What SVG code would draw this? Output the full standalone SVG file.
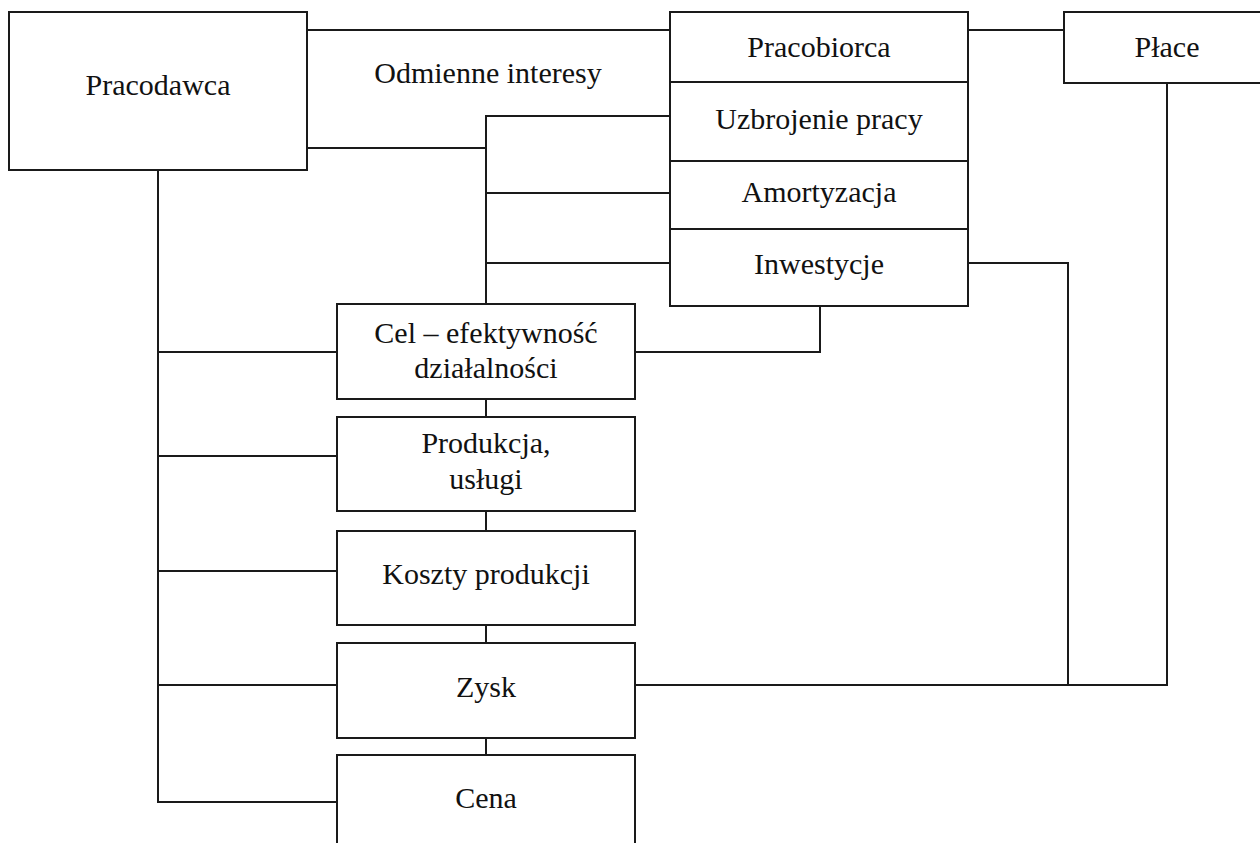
<svg xmlns="http://www.w3.org/2000/svg" width="1260" height="843" viewBox="0 0 1260 843">
<style>
.box{fill:#fff;stroke:#1a1a1a;stroke-width:2}
.ln{fill:none;stroke:#1a1a1a;stroke-width:2}
text{font-family:"Liberation Serif","Times New Roman",serif;font-size:30px;fill:#111;text-anchor:middle}
</style>
<rect width="1260" height="843" fill="#fff"/>
<g id="connectors">
<path class="ln" d="M307,30 H670"/>
<path class="ln" d="M307,148 H486"/>
<path class="ln" d="M670,116 H486 V304"/>
<path class="ln" d="M486,193 H670"/>
<path class="ln" d="M486,263 H670"/>
<path class="ln" d="M968,30 H1064"/>
<path class="ln" d="M158,170 V802 H337"/>
<path class="ln" d="M158,352 H337"/>
<path class="ln" d="M158,456 H337"/>
<path class="ln" d="M158,571 H337"/>
<path class="ln" d="M158,685 H337"/>
<path class="ln" d="M635,352 H820 V306"/>
<path class="ln" d="M968,263 H1068 V685"/>
<path class="ln" d="M635,685 H1167 V83"/>
<path class="ln" d="M486,399 V417"/>
<path class="ln" d="M486,511 V531"/>
<path class="ln" d="M486,625 V643"/>
<path class="ln" d="M486,738 V755"/>
</g>
<g id="pracodawca"><rect class="box" x="9" y="12" width="298" height="158"/><text x="158" y="95">Pracodawca</text></g>
<g id="odmienne"><text x="488" y="83">Odmienne interesy</text></g>
<g id="pracobiorca"><rect class="box" x="670" y="12" width="298" height="70"/><text x="819" y="57">Pracobiorca</text></g>
<g id="uzbrojenie"><rect class="box" x="670" y="82" width="298" height="79"/><text x="819" y="129">Uzbrojenie pracy</text></g>
<g id="amortyzacja"><rect class="box" x="670" y="161" width="298" height="68"/><text x="819" y="202">Amortyzacja</text></g>
<g id="inwestycje"><rect class="box" x="670" y="229" width="298" height="77"/><text x="819" y="274">Inwestycje</text></g>
<g id="place"><rect class="box" x="1064" y="12" width="210" height="71"/><text x="1167" y="57">Płace</text></g>
<g id="cel"><rect class="box" x="337" y="304" width="298" height="95"/><text x="486" y="343">Cel – efektywność</text><text x="486" y="378">działalności</text></g>
<g id="produkcja"><rect class="box" x="337" y="417" width="298" height="94"/><text x="486" y="453">Produkcja,</text><text x="486" y="489">usługi</text></g>
<g id="koszty"><rect class="box" x="337" y="531" width="298" height="94"/><text x="486" y="584">Koszty produkcji</text></g>
<g id="zysk"><rect class="box" x="337" y="643" width="298" height="95"/><text x="486" y="697">Zysk</text></g>
<g id="cena"><rect class="box" x="337" y="755" width="298" height="100"/><text x="486" y="808">Cena</text></g>
</svg>
